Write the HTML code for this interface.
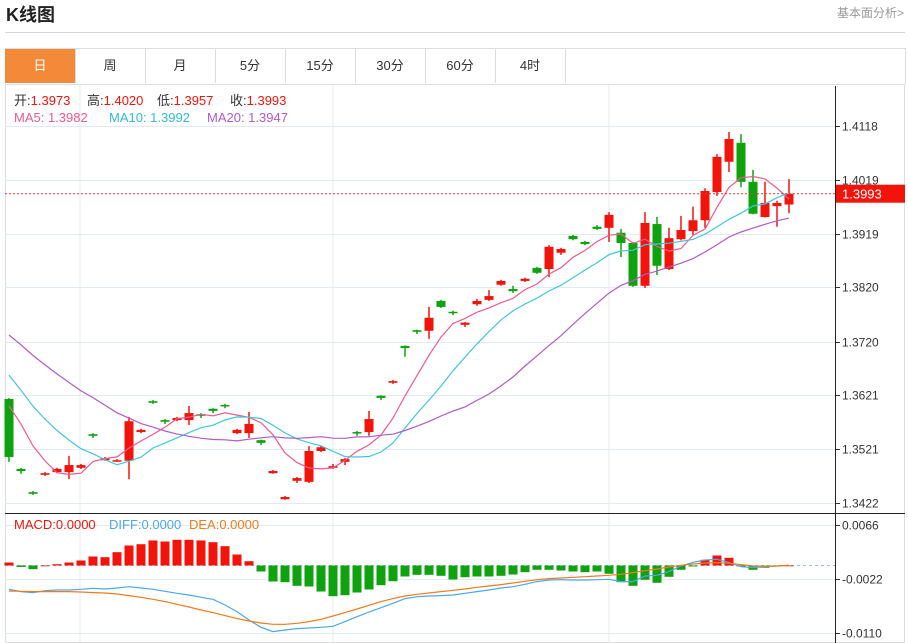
<!DOCTYPE html>
<html><head><meta charset="utf-8"><style>
body{margin:0;background:#fff;width:908px;height:643px;overflow:hidden;font-family:"Liberation Sans","Noto Sans CJK SC",sans-serif;}
.tab{position:absolute;top:49px;height:34px;width:70px;border-right:1px solid #ddd;text-align:center;line-height:34px;font-size:13px;color:#333;}
</style></head><body>
<div style="position:absolute;left:6px;top:1px;font-size:18px;font-weight:bold;color:#222;">K线图</div>
<div style="position:absolute;right:4px;top:4px;font-size:12px;color:#999;">基本面分析&gt;</div>
<div style="position:absolute;left:5px;top:32px;width:900px;height:1px;background:#d6d6d6;"></div>
<div style="position:absolute;left:5px;top:48px;width:899px;height:35px;border:1px solid #ddd;border-bottom:none;"></div>
<div class="tab" style="left:5px;background:#f28a3a;color:#fff;">日</div>
<div class="tab" style="left:75px;">周</div>
<div class="tab" style="left:145px;">月</div>
<div class="tab" style="left:215px;">5分</div>
<div class="tab" style="left:285px;">15分</div>
<div class="tab" style="left:355px;">30分</div>
<div class="tab" style="left:425px;">60分</div>
<div class="tab" style="left:495px;">4时</div>
<svg id="chart" width="908" height="643" style="position:absolute;left:0;top:0;" font-family="Liberation Sans, Noto Sans CJK SC, sans-serif"></svg>
<script>
const priorCloses=[1.3840,1.3835,1.3825,1.3818,1.3810,1.3800,1.3795,1.3785,1.3780,1.3772,1.3760,1.3735,1.3715,1.3695,1.3670,1.3650,1.3640,1.3615,1.3595];
const opens=[1.3614,1.3485,1.3442,1.3474,1.3479,1.3479,1.3487,1.3549,1.3501,1.3500,1.3500,1.3553,1.3610,1.3575,1.3575,1.3575,1.3586,1.3596,1.3603,1.3551,1.3551,1.3538,1.3477,1.3429,1.3463,1.3461,1.3518,1.3487,1.3498,1.3553,1.3553,1.3620,1.3644,1.3712,1.3741,1.3740,1.3795,1.3775,1.3751,1.3789,1.3797,1.3825,1.3817,1.3832,1.3856,1.3854,1.3884,1.3915,1.3904,1.3932,1.3930,1.3921,1.3902,1.3823,1.3937,1.3854,1.3909,1.3924,1.3944,1.3996,1.4052,1.4087,1.4015,1.3950,1.3970,1.3973];
const highs=[1.3616,1.3487,1.3444,1.3479,1.3487,1.3509,1.3494,1.3551,1.3507,1.3503,1.3581,1.3559,1.3612,1.3577,1.3581,1.3601,1.3588,1.3597,1.3605,1.3559,1.3590,1.3539,1.3483,1.3435,1.3470,1.3527,1.3527,1.3494,1.3505,1.3555,1.3592,1.3621,1.3649,1.3713,1.3742,1.3784,1.3797,1.3777,1.3756,1.3799,1.3815,1.3834,1.3823,1.3838,1.3858,1.3898,1.3893,1.3917,1.3906,1.3935,1.3959,1.3928,1.3904,1.3959,1.3950,1.3930,1.3952,1.3969,1.4003,1.4066,1.4107,1.4103,1.4037,1.4015,1.3980,1.4020];
const lows=[1.3498,1.3476,1.3437,1.3472,1.3477,1.3466,1.3485,1.3542,1.3500,1.3498,1.3466,1.3551,1.3605,1.3568,1.3573,1.3566,1.3579,1.3588,1.3597,1.3549,1.3542,1.3529,1.3476,1.3428,1.3459,1.3459,1.3516,1.3485,1.3492,1.3546,1.3546,1.3612,1.3642,1.3692,1.3734,1.3725,1.3782,1.3769,1.3747,1.3786,1.3795,1.3823,1.3810,1.3830,1.3845,1.3839,1.3880,1.3907,1.3898,1.3926,1.3904,1.3876,1.3821,1.3819,1.3843,1.3852,1.3907,1.3917,1.3930,1.3989,1.4033,1.4005,1.3955,1.3949,1.3932,1.3957];
const closes=[1.3507,1.3481,1.3439,1.3477,1.3485,1.3492,1.3492,1.3546,1.3505,1.3501,1.3573,1.3557,1.3607,1.3572,1.3579,1.3588,1.3583,1.3592,1.3601,1.3557,1.3568,1.3533,1.3481,1.3433,1.3468,1.3518,1.3525,1.3490,1.3503,1.3551,1.3577,1.3616,1.3647,1.3708,1.3738,1.3764,1.3784,1.3773,1.3755,1.3795,1.3804,1.3832,1.3813,1.3836,1.3847,1.3895,1.3891,1.3909,1.3900,1.3928,1.3954,1.3902,1.3823,1.3939,1.3860,1.3911,1.3926,1.3944,1.3998,1.4061,1.4094,1.4015,1.3956,1.3976,1.3976,1.3993];
// MACD values in units of 1e-4
const macdHist=[4.9,-2.4,-6.0,0,2.1,4.9,8.2,14.7,13.5,21.7,32.6,34.7,40.8,39.1,41.9,41.9,40.8,38.0,31.5,17.9,7.0,-9.8,-26.1,-27.2,-33.1,-34.2,-42.4,-50.0,-48.4,-44.0,-39.1,-32.1,-25.6,-17.9,-15.2,-15.2,-16.8,-22.8,-19.1,-17.9,-17.9,-16.8,-14.7,-10.9,-7.0,-7.0,-8.2,-9.8,-10.9,-9.8,-13.5,-27.2,-33.1,-23.3,-28.2,-18.4,-7.0,-1.6,9.3,16.3,12.6,-1.6,-7.0,-3.7,-1.6,0];
const diffVals=[-38.8,-42.6,-44.2,-41.0,-39.9,-39.9,-38.8,-37.2,-38.3,-36.6,-34.5,-36.6,-38.8,-42.1,-45.3,-48.0,-51.8,-55.1,-64.3,-75.2,-88.8,-100.7,-107.8,-105.1,-102.9,-101.8,-100.7,-99.1,-91.5,-83.4,-75.8,-68.7,-61.6,-54.0,-50.8,-49.7,-49.1,-48.0,-45.3,-42.6,-39.9,-36.6,-34.5,-30.7,-26.3,-23.6,-23.1,-23.6,-23.6,-23.1,-22.5,-26.3,-26.3,-17.1,-16.0,-10.0,-0.8,5.2,9.0,10.1,4.7,-1.9,-3.5,-1.9,-0.8,0.3];
const deaVals=[-41.5,-42.1,-42.6,-42.6,-42.6,-42.6,-43.2,-44.2,-44.8,-46.4,-49.1,-51.8,-55.1,-58.9,-63.3,-67.6,-72.5,-76.8,-81.7,-86.6,-90.4,-93.7,-95.9,-95.9,-94.2,-91.5,-87.7,-82.3,-76.8,-70.9,-64.9,-58.9,-54.0,-49.7,-47.0,-44.8,-42.6,-40.4,-38.3,-35.5,-33.4,-31.2,-28.5,-25.8,-23.1,-21.4,-20.3,-19.2,-18.2,-17.1,-16.0,-14.4,-11.6,-8.4,-5.7,-2.4,0.3,2.5,4.1,4.7,3.6,1.4,-0.8,-1.3,-0.8,0.3];
const priceTicks=["1.4118","1.4019","1.3919","1.3820","1.3720","1.3621","1.3521","1.3422"];
const macdTicks=["0.0066","-0.0022","-0.0110"];
const maLegendVals=["1.3982","1.3992","1.3947"];

const svg=document.getElementById('chart');
const NS='http://www.w3.org/2000/svg';
function mk(tag,attrs,parent){const e=document.createElementNS(NS,tag);for(const k in attrs)e.setAttribute(k,attrs[k]);(parent||svg).appendChild(e);return e;}
const RED='#f2140a',GREEN='#0ea20e';
const xOf=i=>9+12*i;
const yP=p=>126+(1.4118-p)*5416.7;
const yM=v=>565.5-v*1e-4*6136;

let f=mk('rect',{x:5.5,y:84.5,width:899,height:558,fill:'none',stroke:'#ddd'});


[80,333,609].forEach(x=>{let l=mk('line',{x1:x,y1:85,x2:x,y2:643,stroke:'#e3ebf2'});

});
priceTicks.forEach(t=>{const y=Math.round(yP(parseFloat(t)))+0.5;
let l=mk('line',{x1:5,y1:y,x2:835,y2:y,stroke:'#e3ebf2'});


mk('line',{x1:835,y1:y,x2:840,y2:y,stroke:'#333'});
let tx=mk('text',{x:842,y:y+4,'font-size':12,fill:'#333'});tx.textContent=t;

});
macdTicks.forEach(t=>{const y=Math.round(yM(parseFloat(t)*1e4))+0.5;
let l=mk('line',{x1:5,y1:y,x2:835,y2:y,stroke:'#e3ebf2'});


mk('line',{x1:835,y1:y,x2:840,y2:y,stroke:'#333'});
let tx=mk('text',{x:842,y:y+4,'font-size':12,fill:'#333'});tx.textContent=t;

});
let ax=mk('line',{x1:835.5,y1:86,x2:835.5,y2:643,stroke:'#222'});


let sep=mk('line',{x1:5,y1:513.5,x2:905,y2:513.5,stroke:'#222'});



const all=priorCloses.concat(closes);
function ma(n){return closes.map((c,i)=>{const j=i+priorCloses.length;let s=0;for(let k=j-n+1;k<=j;k++)s+=all[k];return s/n;});}
function line(vals,yf,color,name){const d=vals.map((v,i)=>(i?'L':'M')+xOf(i)+','+yf(v).toFixed(1)).join('');
let p=mk('path',{d:d,fill:'none',stroke:color,'stroke-width':1.2});

}

closes.forEach((c,i)=>{const o=opens[i],x=xOf(i),col=c>=o?RED:GREEN;
const g=mk('g',{});


mk('line',{x1:x,y1:yP(highs[i]),x2:x,y2:yP(lows[i]),stroke:col,'stroke-width':1.5},g);
const t=yP(Math.max(o,c)),b=yP(Math.min(o,c));
mk('rect',{x:x-4.5,y:t,width:9,height:Math.max(1.5,b-t),fill:col},g);});
line(ma(5),yP,'#ee5a8c','ma5-line');
line(ma(10),yP,'#40c6dc','ma10-line');
line(ma(20),yP,'#b25ac8','ma20-line');

const last=closes[closes.length-1],ly=yP(last);
let cl=mk('line',{x1:5,y1:ly,x2:835,y2:ly,stroke:'#e33','stroke-dasharray':'2,2'});


let cb=mk('rect',{x:836,y:ly-9,width:69,height:18,fill:'#f2140a'});


let ct=mk('text',{x:842,y:ly+5,'font-size':13,fill:'#fff'});ct.textContent=last.toFixed(4);



let z=mk('line',{x1:5,y1:yM(0),x2:835,y2:yM(0),stroke:'#9bbfd0','stroke-dasharray':'3,3'});


macdHist.forEach((v,i)=>{const y0=yM(0),y1=yM(v);
let r=mk('rect',{x:xOf(i)-4.5,y:Math.min(y0,y1),width:9,height:Math.max(0.8,Math.abs(y1-y0)),fill:v>=0?RED:GREEN});

});
line(diffVals,yM,'#4ca6f0','diff-line');
line(deaVals,yM,'#f27a1a','dea-line');

function txt(x,y,s,c,name){let t=mk('text',{x:x,y:y,'font-size':13,fill:c});t.textContent=s;

return t;}
const L=closes.length-1;
const ohlc=[['开:',opens[L]],['高:',highs[L]],['低:',lows[L]],['收:',closes[L]]];
const ox=[14,87,157,230];
ohlc.forEach((a,k)=>{const t=mk('text',{x:ox[k],y:105,'font-size':13,fill:'#333'});


t.innerHTML=a[0]+'<tspan fill="'+RED+'">'+a[1].toFixed(4)+'</tspan>';});
txt(14,122,'MA5: '+maLegendVals[0],'#ee5a8c','ma5-legend');
txt(109,122,'MA10: '+maLegendVals[1],'#30bcd6','ma10-legend');
txt(207,122,'MA20: '+maLegendVals[2],'#b25ac8','ma20-legend');
txt(14,529,'MACD:0.0000','#f2140a','macd-legend');
txt(109,529,'DIFF:0.0000','#4ca6f0','diff-legend');
txt(189,529,'DEA:0.0000','#f27a1a','dea-legend');
</script>
</body></html>
